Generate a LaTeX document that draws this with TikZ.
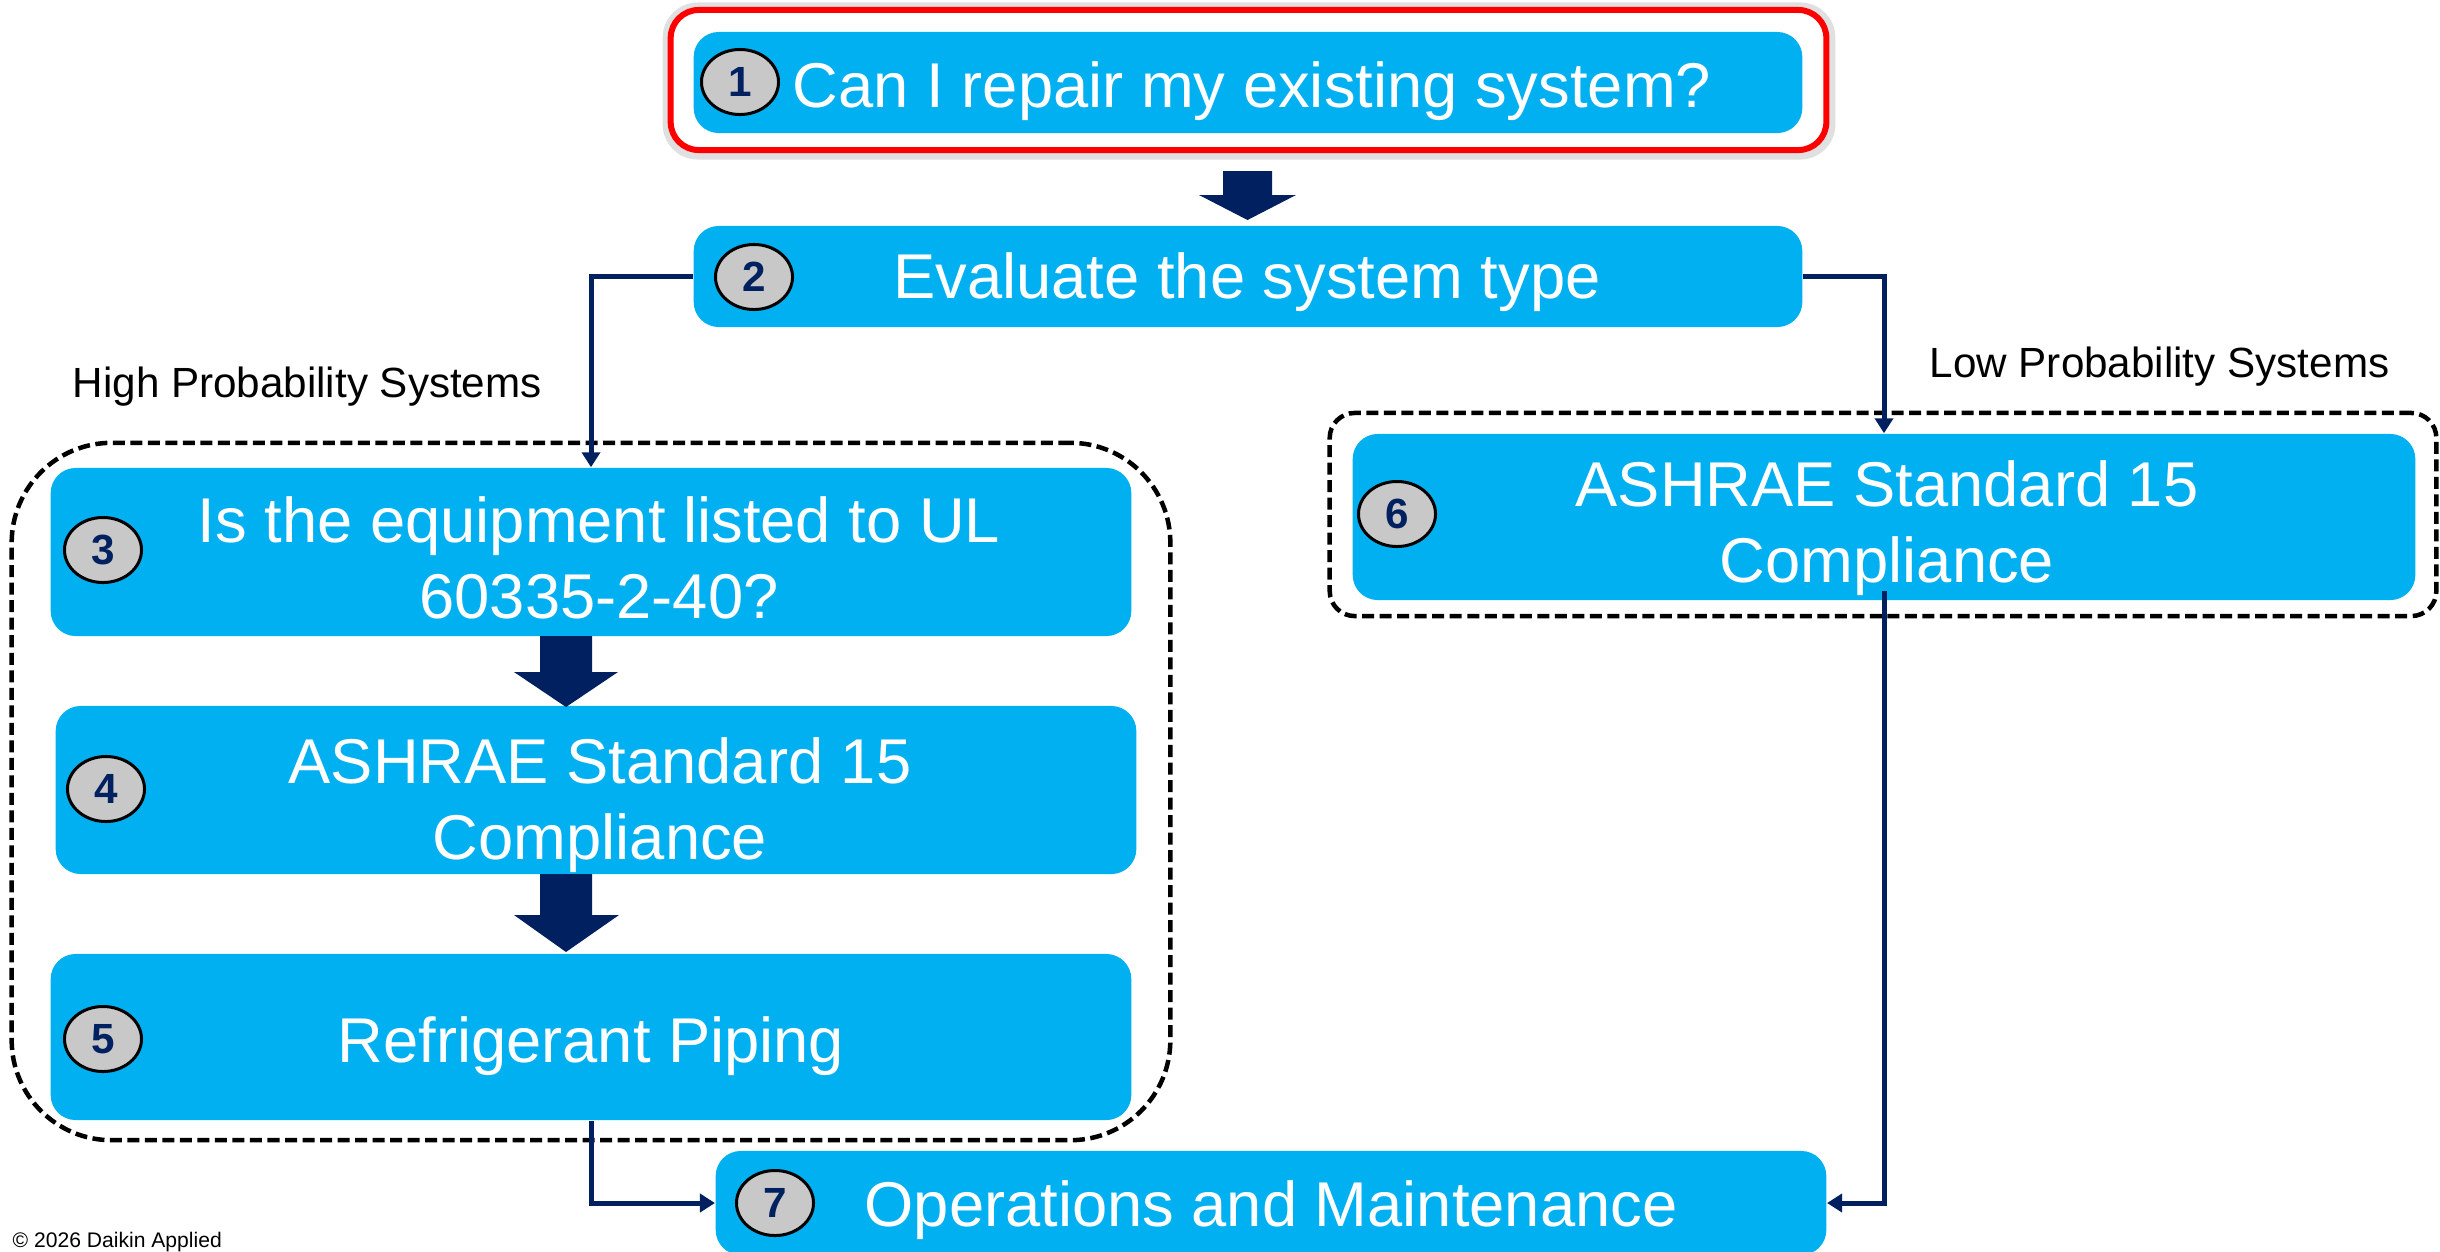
\documentclass[tikz,border=0pt]{standalone}
\usepackage{fontspec}
\setmainfont{Liberation Sans}
\usetikzlibrary{shapes.geometric,arrows.meta}
\definecolor{cyanbox}{HTML}{00B0F0}
\definecolor{navy}{HTML}{002060}
\definecolor{numgray}{HTML}{C8C8C8}
\begin{document}
\begin{tikzpicture}[x=0.01cm,y=-0.01cm,
  box/.style={fill=cyanbox, rounded corners=0.25cm, inner sep=0, draw=none},
  num/.style={ellipse, fill=numgray, draw=black, line width=0.03cm, minimum width=0.77cm, minimum height=0.65cm, inner sep=0, text=navy, font=\fontsize{12}{14}\selectfont\bfseries},
  btxt/.style={text=white, font=\fontsize{18}{21.6}\selectfont, align=center, inner sep=0},
  lbl/.style={font=\fontsize{12}{14}\selectfont, inner sep=0, anchor=base west},
  grp/.style={draw=black, dash pattern=on 0.12cm off 0.055cm, line width=0.045cm, inner sep=0},
  conn/.style={draw=navy, line width=0.05cm, -{Triangle[length=0.15cm,width=0.18cm]}},
  blk/.style={fill=navy}]
\useasboundingbox (0,0) rectangle (2440,1251);

% dashed group frames
\node[grp, rounded corners=1.0cm, minimum width=11.58cm, minimum height=6.97cm] (gleft) at (591,791.5) {};
\node[grp, rounded corners=0.25cm, minimum width=11.06cm, minimum height=2.03cm] (gright) at (1883,514.5) {};

% red frame around step 1 (with faint shadow)
\node[draw=black!12, line width=0.1cm, rounded corners=0.3cm, minimum width=11.62cm, minimum height=1.47cm, inner sep=0] (shadow1) at (1249,81) {};
\node[draw=red, line width=0.06cm, rounded corners=0.28cm, minimum width=11.55cm, minimum height=1.40cm, inner sep=0] (frame1) at (1248.5,80) {};

% boxes
\node[box, minimum width=11.08cm, minimum height=1.01cm] (b1) at (1248,82.5) {};
\node[box, minimum width=11.08cm, minimum height=1.01cm] (b2) at (1248,276.5) {};
\node[box, minimum width=10.80cm, minimum height=1.68cm] (b3) at (591,552) {};
\node[box, minimum width=10.80cm, minimum height=1.68cm] (b4) at (596,790) {};
\node[box, minimum width=10.80cm, minimum height=1.66cm] (b5) at (591,1037) {};
\node[box, minimum width=10.62cm, minimum height=1.66cm] (b6) at (1884,517) {};
\node[box, minimum width=11.10cm, minimum height=1.04cm] (b7) at (1271,1203) {};

% box texts
\node[btxt, anchor=base] (t1) at (1252,107) {Can I repair my existing system?};
\node[btxt, anchor=base] (t2) at (1247,298) {Evaluate the system type};
\node[btxt] (t3) at (599,558) {Is the equipment listed to UL\\60335-2-40?};
\node[btxt] (t4) at (600,805) {ASHRAE Standard 15\\Compliance};
\node[btxt, anchor=base] (t5) at (591,1062) {Refrigerant Piping};
\node[btxt] (t6) at (1887,528) {ASHRAE Standard 15\\Compliance};
\node[btxt, anchor=base] (t7) at (1271,1226) {Operations and Maintenance};

% number badges
\node[num] (c1) at (740,82) {1};
\node[num] (c2) at (754,277) {2};
\node[num] (c3) at (103,550) {3};
\node[num] (c4) at (106,789) {4};
\node[num] (c5) at (103,1039) {5};
\node[num] (c6) at (1397,514) {6};
\node[num] (c7) at (775,1203) {7};

% block arrows
\fill[blk] (1223,171) -- (1272,171) -- (1272,195) -- (1296,195) -- (1247.5,220) -- (1199,195) -- (1223,195) -- cycle;
\fill[blk] (540,636) -- (592,636) -- (592,672) -- (618,672) -- (566,707) -- (514,672) -- (540,672) -- cycle;
\fill[blk] (540,874) -- (592,874) -- (592,915) -- (619,915) -- (566,952) -- (514,915) -- (540,915) -- cycle;

% labels
\node[lbl] (lhigh) at (72,397) {High Probability Systems};
\node[lbl] (llow) at (1929,377) {Low Probability Systems};
\node[font=\fontsize{6}{7}\selectfont, inner sep=0, anchor=base west] (copy) at (12,1247) {© 2026 Daikin Applied};

% connectors
\draw[conn] (b2.west) -| (b3.north);
\draw[conn] (b2.east) -| (b6.north);
\draw[conn] (b5.south) |- (b7.west);
\draw[conn] ([yshift=0.1cm]b6.south) |- (b7.east);
\end{tikzpicture}
\end{document}
